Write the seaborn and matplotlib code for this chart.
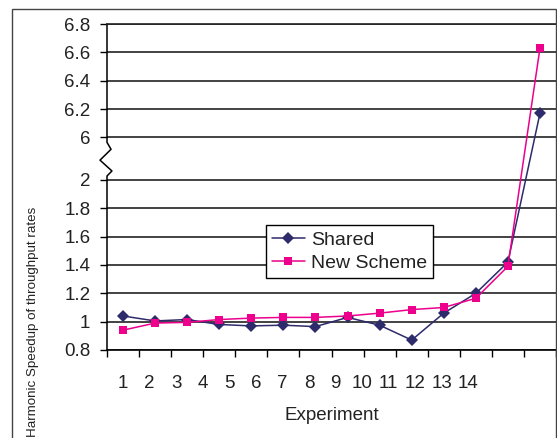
import numpy as np
import pandas as pd
import matplotlib
matplotlib.use("Agg")
import matplotlib.pyplot as plt
import matplotlib.transforms as mtransforms
from matplotlib.lines import Line2D
from matplotlib.patches import Rectangle
import seaborn as sns

# ---- data -------------------------------------------------------------
experiments = list(range(1, 15))
shared = [1.04, 1.005, 1.015, 0.98, 0.97, 0.975, 0.965, 1.03, 0.975, 0.87,
          1.06, 1.20, 1.42, 6.17]
new_scheme = [0.94, 0.99, 0.995, 1.015, 1.025, 1.03, 1.03, 1.04, 1.06, 1.085,
              1.10, 1.165, 1.39, 6.63]
series_names = ["Shared", "New Scheme"]
y_ticks = [0.8, 1.0, 1.2, 1.4, 1.6, 1.8, 2.0, 6.0, 6.2, 6.4, 6.6, 6.8]
y_tick_labels = ["0.8", "1", "1.2", "1.4", "1.6", "1.8", "2",
                 "6", "6.2", "6.4", "6.6", "6.8"]
x_tick_labels = [str(e) for e in experiments]
x_label = "Experiment"
y_label = "Harmonic Speedup of throughput rates"

colors = {"Shared": "#2d2b6b", "New Scheme": "#ec008c"}
markers = {"Shared": "D", "New Scheme": "s"}

# ---- broken value axis: 0.8-2 and 6-6.8 share one axis -----------------
LOW_TOP, HIGH_BOTTOM, GAP = 2.0, 6.0, 0.30


def fwd(v):
    v = np.asarray(v, dtype=float)
    mid = LOW_TOP + (v - LOW_TOP) * GAP / (HIGH_BOTTOM - LOW_TOP)
    hi = v - HIGH_BOTTOM + LOW_TOP + GAP
    return np.where(v <= LOW_TOP, v, np.where(v >= HIGH_BOTTOM, hi, mid))


def inv(u):
    u = np.asarray(u, dtype=float)
    mid = LOW_TOP + (u - LOW_TOP) * (HIGH_BOTTOM - LOW_TOP) / GAP
    hi = u - LOW_TOP - GAP + HIGH_BOTTOM
    return np.where(u <= LOW_TOP, u, np.where(u >= LOW_TOP + GAP, hi, mid))


df = pd.DataFrame({
    "pos": list(range(len(experiments))) * 2,
    "value": shared + new_scheme,
    "series": ["Shared"] * len(shared) + ["New Scheme"] * len(new_scheme),
})

sns.set_theme(style="white")
plt.rcParams["font.family"] = ["Liberation Sans", "DejaVu Sans"]

W, H = 557, 438
fig = plt.figure(figsize=(W / 100, H / 100), dpi=100)
ax = fig.add_axes([107 / W, 88 / H, 449 / W, 326 / H])
ax.set_yscale("function", functions=(fwd, inv))

sns.lineplot(data=df, x="pos", y="value", hue="series", style="series",
             hue_order=series_names, style_order=series_names,
             palette=colors, markers=markers, dashes=False,
             markersize=6, markeredgewidth=0, linewidth=1.1,
             legend=False, ax=ax)

ax.set_xlim(-0.5, len(experiments) - 0.5)
ax.set_ylim(0.8, 6.8)

# value axis ticks, grid
ax.set_yticks(y_ticks, y_tick_labels)
ax.yaxis.grid(True, color="#222222", linewidth=1.2)
ax.xaxis.grid(False)
ax.tick_params(axis="y", which="major", direction="out", length=5,
               width=1, color="black", pad=7, labelsize=13.5,
               labelcolor="#222222", left=True)

# category axis: tick marks between categories, labels as minor ticks
ax.set_xticks(np.arange(-0.5, len(experiments), 1.0))
ax.tick_params(axis="x", which="major", direction="out", length=5,
               width=1, color="black", labelbottom=False, bottom=True)
label_step = 26.5 / 32.0
ax.set_xticks(np.arange(len(experiments)) * label_step, x_tick_labels,
              minor=True)
ax.tick_params(axis="x", which="minor", length=0, pad=18, labelsize=13.5,
               labelcolor="#222222")
ax.set_xlabel(x_label, fontsize=13.5, color="#222222", labelpad=11)
ax.set_ylabel("")

for side in ["left", "right", "top"]:
    ax.spines[side].set_visible(False)
ax.spines["bottom"].set_color("black")
ax.spines["bottom"].set_linewidth(1.2)
ax.spines["top"].set_visible(True)
ax.spines["top"].set_color("#222222")
ax.spines["top"].set_linewidth(1.2)

# left axis line with break symbol
blend = mtransforms.blended_transform_factory(ax.transAxes, ax.transData)
ax.add_line(Line2D([0, 0, 0.011, -0.0156, 0.009, 0, 0],
                   [0.8, 2.37, 2.84, 3.86, 4.88, 5.53, 6.8],
                   transform=blend, color="black", linewidth=1.1,
                   clip_on=False))

# legend
handles = [Line2D([], [], color=colors[s], marker=markers[s], markersize=6,
                  markeredgewidth=0, linewidth=1.1) for s in series_names]
leg = ax.legend(handles, series_names, loc="upper left",
                bbox_to_anchor=(0.354, 0.383), fontsize=14, frameon=True,
                fancybox=False, framealpha=1, edgecolor="black",
                handlelength=1.7, handletextpad=0.3, labelspacing=0.3,
                borderpad=0.3, borderaxespad=0)
leg.get_frame().set_linewidth(1.0)
for t in leg.get_texts():
    t.set_color("#222222")

# outer chart frame
fig.add_artist(Rectangle((12 / W, -0.05), (556 - 12) / W, 1 - 9 / H + 0.05,
                         transform=fig.transFigure, fill=False,
                         edgecolor="#444444", linewidth=1.0))

# value axis title
fig.text(33 / W, 1 / H, y_label, rotation=90, ha="center", va="bottom",
         fontsize=9.6, color="#222222")

fig.savefig("out.png", dpi=100)
